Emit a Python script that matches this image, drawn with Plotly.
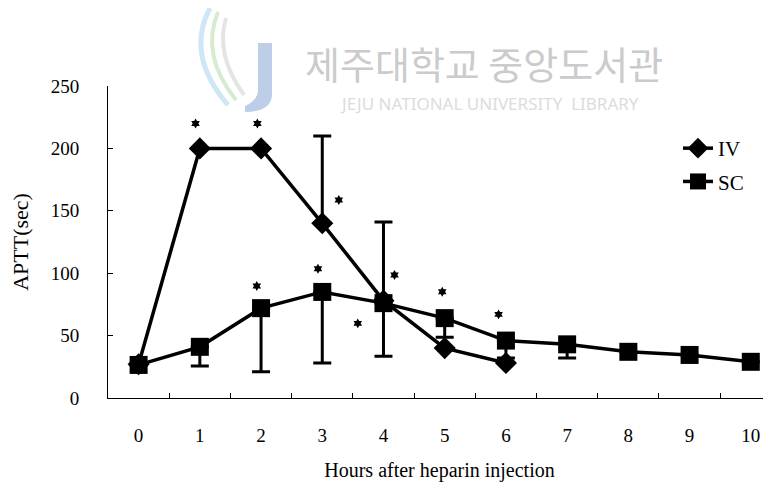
import plotly.graph_objects as go

# ---- data ----
hours = list(range(11))
hour_labels = [str(h) for h in hours]
iv_hours = [0, 1, 2, 3, 4, 5, 6]
iv_aptt = [27, 200, 200, 140, 78, 40, 28]
iv_err_plus = [0, 0, 0, 70, 63, 0, 0]
sc_aptt = [26.5, 41, 72, 85, 76, 64, 46, 43, 37, 34.5, 29]
sc_err_minus = [0, 15.4, 51, 57, 42.6, 15.4, 14, 11, 0, 0, 0]
star_x = [0.93, 1.94, 3.27, 1.93, 2.93, 4.18, 3.58, 4.96, 5.88]
star_y = [220, 220, 158.6, 89.7, 103.6, 98.6, 59.8, 85.2, 67]
y_ticks = [0, 50, 100, 150, 200, 250]
boundaries = [h + 0.5 for h in hours[:-1]]

SERIF = "Liberation Serif, Times New Roman, serif"

# The page body has an 8px margin: screen px -> paper coords of the plot area
PL, PT, PW, PH = 108, 86, 663, 312  # plot area on screen


def px(x):
    return (x - PL) / PW


def py(y):
    return (PT + PH - y) / PH


fig = go.Figure()

fig.add_trace(go.Scatter(
    x=iv_hours, y=iv_aptt, name="IV", mode="lines+markers",
    line=dict(color="black", width=3.5),
    marker=dict(symbol="diamond", size=17, color="black"),
    error_y=dict(type="data", symmetric=False, array=iv_err_plus,
                 arrayminus=[0] * len(iv_hours), color="black",
                 thickness=3, width=9),
    legendgroup="iv",
))
fig.add_trace(go.Scatter(
    x=hours, y=sc_aptt, name="SC", mode="lines+markers",
    line=dict(color="black", width=3.5),
    marker=dict(symbol="square", size=18, color="black"),
    error_y=dict(type="data", symmetric=False, array=[0] * len(hours),
                 arrayminus=sc_err_minus, color="black",
                 thickness=3, width=9),
    legendgroup="sc",
))
fig.add_trace(go.Scatter(
    x=star_x, y=star_y, mode="markers", showlegend=False,
    marker=dict(symbol="hexagram", size=7.5, color="black"),
    hoverinfo="skip",
))

# watermark (library stamp)
fig.add_annotation(text="제주대학교 중앙도서관", xref="paper", yref="paper",
                   x=px(484), y=py(62), xanchor="center", yanchor="middle",
                   showarrow=False,
                   font=dict(family="Noto Sans CJK KR", size=38, color="#cbcbcb"))
fig.add_annotation(text="JEJU NATIONAL UNIVERSITY  LIBRARY", xref="paper", yref="paper",
                   x=px(490), y=py(103), xanchor="center", yanchor="middle",
                   showarrow=False,
                   font=dict(family="Noto Sans", size=17, color="#dcdcdc"))
# J stem with curved foot
fig.add_shape(type="path", xref="paper", yref="paper",
              path="M {} {} L {} {} L {} {} Q {} {} {} {} L {} {} Q {} {} {} {} Z".format(
                  px(258), py(43), px(272), py(43), px(272), py(96),
                  px(270), py(112), px(245), py(112),
                  px(245), py(106), px(258), py(100), px(258), py(90)),
              fillcolor="#bccee8", line=dict(width=0), layer="below")
# swirls
fig.add_shape(type="path", xref="paper", yref="paper",
              path="M {} {} Q {} {} {} {}".format(
                  px(210), py(8), px(185), py(55), px(228), py(105)),
              line=dict(color="#cfe6f4", width=5), layer="below")
fig.add_shape(type="path", xref="paper", yref="paper",
              path="M {} {} Q {} {} {} {}".format(
                  px(218), py(12), px(200), py(55), px(236), py(100)),
              line=dict(color="#d6ebcf", width=4), layer="below")
fig.add_shape(type="path", xref="paper", yref="paper",
              path="M {} {} Q {} {} {} {}".format(
                  px(226), py(18), px(215), py(55), px(244), py(95)),
              line=dict(color="#e4e4e4", width=4), layer="below")

fig.update_layout(
    width=763, height=477,
    margin=dict(l=100, r=0, t=78, b=87),
    paper_bgcolor="white", plot_bgcolor="white",
    font=dict(family=SERIF, size=19, color="black"),
    showlegend=True,
    legend=dict(x=px(678), y=py(128), xanchor="left", yanchor="top",
                bgcolor="rgba(0,0,0,0)", font=dict(family=SERIF, size=21),
                tracegroupgap=3),
    xaxis=dict(
        range=[-0.5, 10.33], tickvals=hours, ticktext=hour_labels,
        ticks="", showgrid=False, zeroline=False,
        showline=True, linecolor="black", linewidth=1,
        ticklabelstandoff=20,
        minor=dict(tickvals=boundaries, ticks="inside", ticklen=5,
                   tickcolor="black", tickwidth=1, showgrid=False),
        title=dict(text="Hours after heparin injection", standoff=18,
                   font=dict(family=SERIF, size=20)),
    ),
    yaxis=dict(
        range=[0, 250], tickvals=y_ticks, ticks="inside", ticklen=5,
        tickcolor="black", showgrid=False, zeroline=False,
        showline=True, linecolor="black", linewidth=1,
        ticklabelstandoff=24,
        title=dict(text="APTT(sec)", standoff=16,
                   font=dict(family=SERIF, size=22)),
    ),
)

fig.write_html("out.html")
